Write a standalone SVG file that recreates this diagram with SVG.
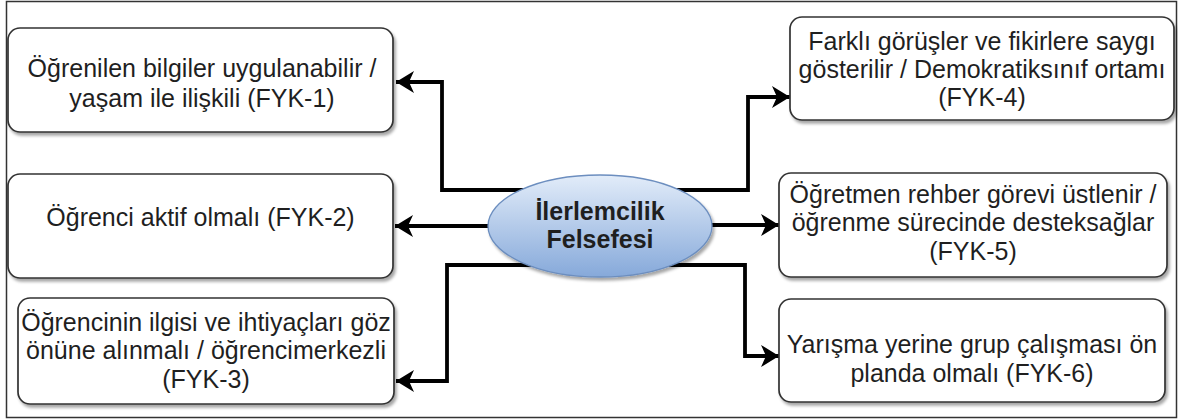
<svg xmlns="http://www.w3.org/2000/svg" width="1178" height="419" viewBox="0 0 1178 419">
  <style>
    .frame { fill: #ffffff; stroke: #333333; stroke-width: 1.5; }
    .box { fill: #ffffff; stroke: #333333; stroke-width: 1.7; filter: url(#shadow); }
    .lbl { font-family: "Liberation Sans", Arial, sans-serif; font-size: 25px; fill: #1f1f1f; text-anchor: middle; }
    .hub { font-family: "Liberation Sans", Arial, sans-serif; font-size: 25px; font-weight: bold; fill: #1f1f1f; text-anchor: middle; }
    .wire { fill: none; stroke: #000000; stroke-width: 3.8; stroke-linejoin: miter; marker-end: url(#arrow); }
  </style>
  <defs>
    <filter id="shadow" x="-10%" y="-10%" width="125%" height="130%">
      <feDropShadow dx="2" dy="3" stdDeviation="1.6" flood-color="#000000" flood-opacity="0.35"/>
    </filter>
    <linearGradient id="hubFill" x1="0" y1="0" x2="0" y2="1">
      <stop offset="0" stop-color="#e2ecf9"/>
      <stop offset="1" stop-color="#86a9da"/>
    </linearGradient>
    <marker id="arrow" markerUnits="userSpaceOnUse" markerWidth="22" markerHeight="24" refX="18" refY="11" orient="auto">
      <path d="M0,0 L18,11 L0,22 L5,11 Z" fill="#000000"/>
    </marker>
  </defs>

  <rect class="frame" x="6.5" y="1.5" width="1170" height="416"/>

  <!-- connectors: drawn first so the hub ellipse covers their starts -->
  <g id="connectors">
    <path class="wire" d="M600,190 H442 V82 H396"/>
    <path class="wire" d="M600,226 H395"/>
    <path class="wire" d="M600,265 H447 V381 H396"/>
    <path class="wire" d="M600,190 H748 V97 H790"/>
    <path class="wire" d="M600,225 H779"/>
    <path class="wire" d="M600,265 H745 V356 H779"/>
  </g>

  <g id="hub">
    <ellipse cx="600" cy="226" rx="112" ry="51" fill="url(#hubFill)" stroke="#6c8ebf" stroke-width="1.3" filter="url(#shadow)"/>
    <text class="hub" x="600" y="220">İlerlemcilik</text>
    <text class="hub" x="600" y="248">Felsefesi</text>
  </g>

  <g id="fyk1">
    <rect class="box" x="8" y="28" width="385" height="104" rx="12"/>
    <text class="lbl" x="202" y="77">Öğrenilen bilgiler uygulanabilir /</text>
    <text class="lbl" x="202" y="107">yaşam ile ilişkili (FYK-1)</text>
  </g>

  <g id="fyk2">
    <rect class="box" x="8" y="174" width="385" height="104" rx="12"/>
    <text class="lbl" x="200.5" y="226">Öğrenci aktif olmalı (FYK-2)</text>
  </g>

  <g id="fyk3">
    <rect class="box" x="18" y="298" width="376" height="106" rx="12"/>
    <text class="lbl" x="206" y="331">Öğrencinin ilgisi ve ihtiyaçları göz</text>
    <text class="lbl" x="206" y="359">önüne alınmalı / öğrencimerkezli</text>
    <text class="lbl" x="206" y="388">(FYK-3)</text>
  </g>

  <g id="fyk4">
    <rect class="box" x="790" y="17" width="384" height="103" rx="12"/>
    <text class="lbl" x="982" y="50">Farklı görüşler ve fikirlere saygı</text>
    <text class="lbl" x="982" y="78">gösterilir / Demokratiksınıf ortamı</text>
    <text class="lbl" x="982" y="106">(FYK-4)</text>
  </g>

  <g id="fyk5">
    <rect class="box" x="779" y="173" width="388" height="104" rx="12"/>
    <text class="lbl" x="973" y="203">Öğretmen rehber görevi üstlenir /</text>
    <text class="lbl" x="973" y="231">öğrenme sürecinde desteksağlar</text>
    <text class="lbl" x="973" y="260">(FYK-5)</text>
  </g>

  <g id="fyk6">
    <rect class="box" x="779" y="299" width="386" height="103" rx="12"/>
    <text class="lbl" x="972" y="353">Yarışma yerine grup çalışması ön</text>
    <text class="lbl" x="972" y="382">planda olmalı (FYK-6)</text>
  </g>
</svg>
